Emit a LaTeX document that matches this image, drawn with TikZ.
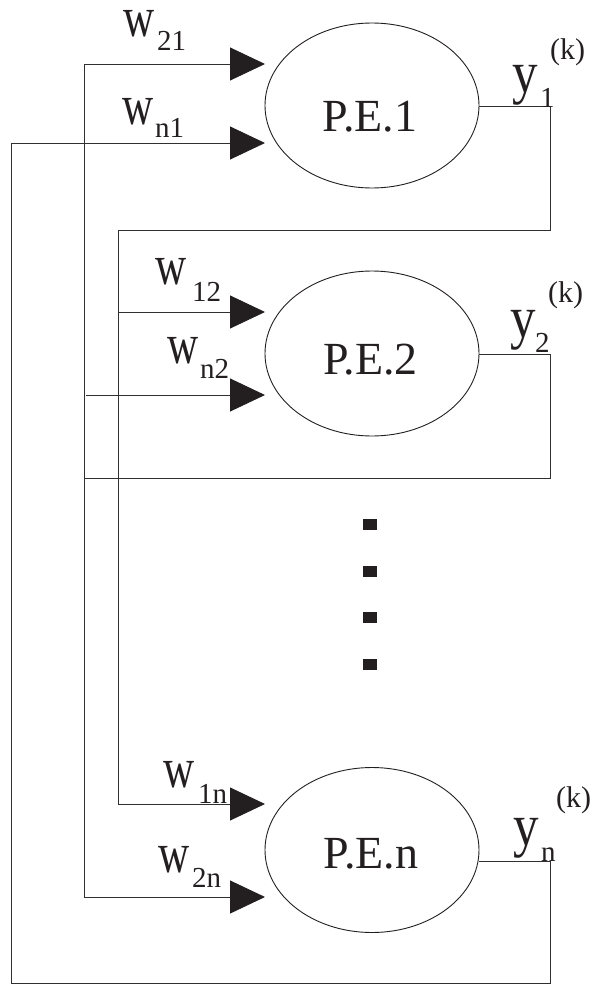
\documentclass[tikz,border=0pt]{standalone}
\usepackage{fontspec}
\setmainfont{Liberation Serif}
\usetikzlibrary{arrows.meta,shapes.geometric}
\definecolor{ink}{HTML}{231F20}
\definecolor{wirec}{HTML}{303030}
\newcommand\wglyph{\smash{\scalebox{0.88}[1.16]{\fontsize{49}{49}\selectfont w}}}
\newcommand\yglyph{\smash{\scalebox{1}[1.16]{\fontsize{51}{51}\selectfont y}}}
\newcommand\subtxt[1]{\fontsize{29}{29}\selectfont #1}
\newcommand\ktxt{\fontsize{30}{30}\selectfont (k)}
\begin{document}
\begin{tikzpicture}[x=1pt,y=-1pt,
  wire/.style={draw=wirec,line width=1pt},
  arr/.style={wire,-{Triangle[length=35pt,width=33pt,fill=ink,color=ink]}},
  pe/.style={draw=ink,line width=0.9pt,ellipse,minimum width=214pt,minimum height=165pt,inner sep=0pt},
  petext/.style={anchor=base,inner sep=0pt,text=ink,font=\fontsize{46}{46}\selectfont},
  lab/.style={anchor=base west,inner sep=0pt,text=ink},
  dotsq/.style={fill=ink,minimum width=14pt,minimum height=11pt,inner sep=0pt,draw=none,rectangle}]
\useasboundingbox (0,0) rectangle (592,985);
% processing elements
\node[pe] (pe1) at (372,105.5) {};
\node[pe] (pe2) at (372,353.5) {};
\node[pe] (pen) at (372,850) {};
\node[petext] (pe1t) at (370,131) {P.E.1};
\node[petext] (pe2t) at (370.5,374) {P.E.2};
\node[petext] (pent) at (371,868) {P.E.n};
% arrow tips
\coordinate (t21) at (265,64);
\coordinate (tn1) at (265,143);
\coordinate (t12) at (265,312);
\coordinate (tn2) at (265,395);
\coordinate (t1n) at (265,804);
\coordinate (t2n) at (265,897);
% wiring junctions
\coordinate (o1) at (479,106);
\coordinate (o2) at (479,354);
\coordinate (on) at (479,861);
\coordinate (r1) at (550,106);
\coordinate (r1b) at (550,230);
\coordinate (c118t) at (118,230);
\coordinate (c118a) at (118,312);
\coordinate (c118b) at (118,804);
\coordinate (r2) at (550,354);
\coordinate (r2b) at (550,478);
\coordinate (c84m) at (84,478);
\coordinate (c84t) at (84,64);
\coordinate (c84b) at (84,897);
\coordinate (c86) at (86,395);
\coordinate (rn) at (550,861);
\coordinate (rnb) at (550,983);
\coordinate (c11b) at (11,983);
\coordinate (c11t) at (11,143);
% output of PE1 -> x=118 bus
\draw[wire] (o1) -- (r1) -- (r1b) -- (c118t) -- (c118b);
\draw[arr] (c118a) -- (t12);
\draw[arr] (c118b) -- (t1n);
% output of PE2 -> x=84 bus
\draw[wire] (o2) -- (r2) -- (r2b) -- (c84m);
\draw[wire] (c84t) -- (c84b);
\draw[arr] (c84t) -- (t21);
\draw[arr] (c84b) -- (t2n);
\draw[arr] (c86) -- (tn2);
% output of PEn -> outer loop
\draw[wire] (on) -- (rn) -- (rnb) -- (c11b) -- (c11t);
\draw[arr] (c11t) -- (tn1);
% weight labels
\node[lab] (w21) at (123,36) {\wglyph};
\node[lab] (w21s) at (157,50) {\subtxt{21}};
\node[lab] (wn1) at (122,124) {\wglyph};
\node[lab] (wn1s) at (155,137) {\subtxt{n1}};
\node[lab] (w12) at (155,284) {\wglyph};
\node[lab] (w12s) at (192,301) {\subtxt{12}};
\node[lab] (wn2) at (167,363) {\wglyph};
\node[lab] (wn2s) at (200,378) {\subtxt{n2}};
\node[lab] (w1n) at (163,787) {\wglyph};
\node[lab] (w1ns) at (198,803) {\subtxt{1n}};
\node[lab] (w2n) at (158,872) {\wglyph};
\node[lab] (w2ns) at (192,887) {\subtxt{2n}};
% output labels
\node[lab] (y1) at (512,92) {\yglyph};
\node[lab] (y1s) at (540,107) {\subtxt{1}};
\node[lab] (k1) at (550,59) {\ktxt};
\node[lab] (y2) at (510,337) {\yglyph};
\node[lab] (y2s) at (535,352) {\subtxt{2}};
\node[lab] (k2) at (548,302) {\ktxt};
\node[lab] (yn) at (513,845) {\yglyph};
\node[lab] (yns) at (541,861) {\subtxt{n}};
\node[lab] (kn) at (556,807) {\ktxt};
% vertical dots
\node[dotsq] (d1) at (370,524.5) {};
\node[dotsq] (d2) at (370,571.5) {};
\node[dotsq] (d3) at (370,617.5) {};
\node[dotsq] (d4) at (370,664.5) {};
\end{tikzpicture}
\end{document}
